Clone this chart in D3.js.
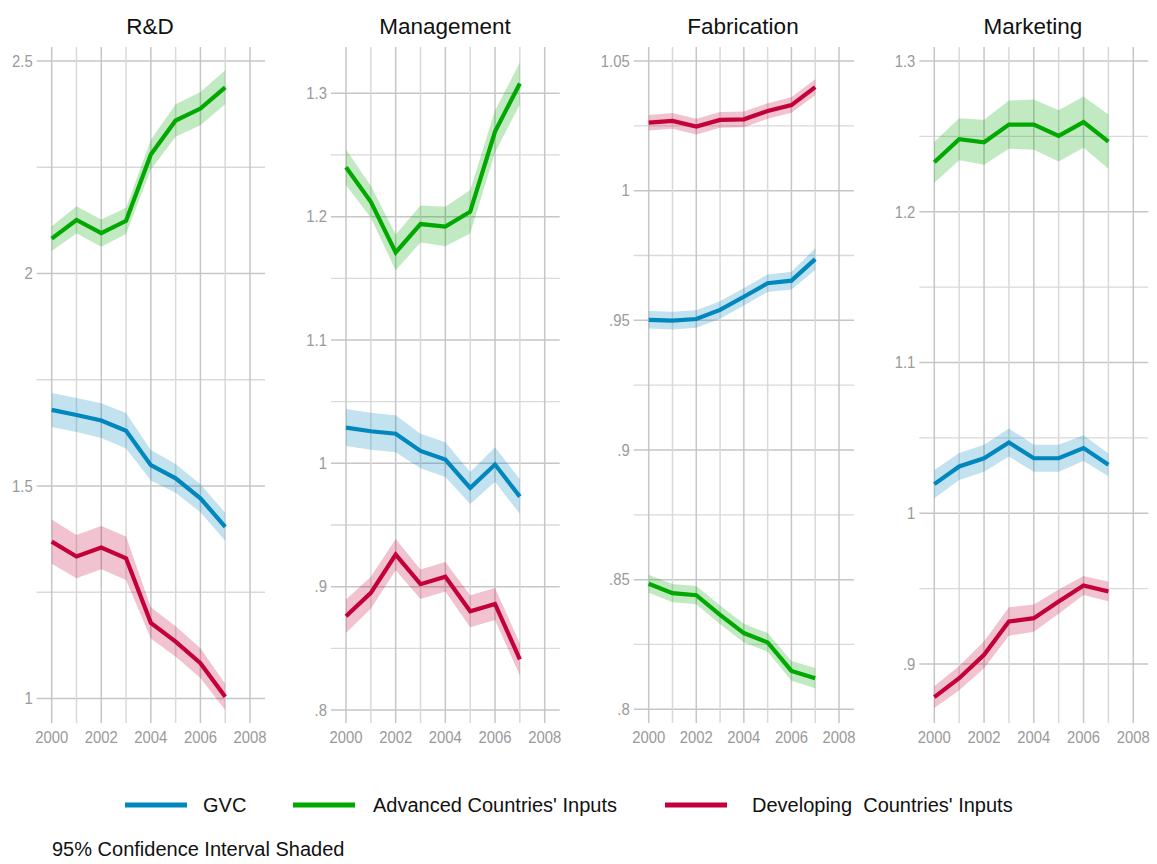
<!DOCTYPE html>
<html>
<head>
<meta charset="utf-8">
<script src="https://cdn.jsdelivr.net/npm/d3@7"></script>
<style>
  html, body { margin: 0; padding: 0; background: #fff; }
  svg { display: block; }
  text { font-family: "Liberation Sans", Arial, sans-serif; }
</style>
</head>
<body>
<svg id="chart" width="1157" height="864"></svg>
<script>
// ---------------- data ----------------
const years = [2000, 2001, 2002, 2003, 2004, 2005, 2006, 2007];
const xTicks = [2000, 2001, 2002, 2003, 2004, 2005, 2006, 2007, 2008];
const xLabels = [2000, 2002, 2004, 2006, 2008];

const panelTitles = ["R&D", "Management", "Fabrication", "Marketing"];
const seriesNames = ["GVC", "Advanced Countries' Inputs", "Developing  Countries' Inputs"];

// R&D
const rdGVC = [1.679, 1.667, 1.654, 1.630, 1.549, 1.518, 1.471, 1.404];
const rdGVCci = [0.040, 0.040, 0.041, 0.042, 0.036, 0.034, 0.033, 0.033];
const rdAdv = [2.082, 2.126, 2.095, 2.124, 2.280, 2.360, 2.388, 2.438];
const rdAdvci = [0.029, 0.032, 0.032, 0.031, 0.035, 0.038, 0.039, 0.040];
const rdDev = [1.369, 1.334, 1.355, 1.330, 1.178, 1.134, 1.083, 1.004];
const rdDevci = [0.052, 0.051, 0.051, 0.051, 0.037, 0.036, 0.035, 0.031];

// Management
const mgGVC = [1.029, 1.026, 1.024, 1.010, 1.003, 0.980, 0.999, 0.973];
const mgGVCci = [0.015, 0.015, 0.015, 0.014, 0.014, 0.013, 0.014, 0.014];
const mgAdv = [1.240, 1.212, 1.171, 1.194, 1.192, 1.204, 1.269, 1.308];
const mgAdvci = [0.0145, 0.013, 0.0146, 0.015, 0.016, 0.0176, 0.017, 0.017];
const mgDev = [0.876, 0.895, 0.926, 0.902, 0.908, 0.880, 0.886, 0.841];
const mgDevci = [0.0135, 0.013, 0.0127, 0.012, 0.012, 0.013, 0.013, 0.013];

// Fabrication
const fbGVC = [0.9502, 0.9499, 0.9505, 0.9540, 0.9591, 0.9643, 0.9653, 0.9736];
const fbGVCci = [0.0034, 0.0034, 0.0034, 0.0034, 0.0034, 0.0034, 0.0034, 0.0042];
const fbAdv = [0.8484, 0.8448, 0.8440, 0.8364, 0.8294, 0.8258, 0.8148, 0.8120];
const fbAdvci = [0.0035, 0.0035, 0.0035, 0.0036, 0.0036, 0.0036, 0.0038, 0.0039];
const fbDev = [1.0262, 1.0269, 1.0247, 1.0273, 1.0275, 1.0307, 1.0330, 1.0399];
const fbDevci = [0.0030, 0.0030, 0.0030, 0.0030, 0.0030, 0.0030, 0.0030, 0.0031];

// Marketing
const mkGVC = [1.0193, 1.0310, 1.0365, 1.0469, 1.0365, 1.0365, 1.0432, 1.0321];
const mkGVCci = [0.0094, 0.0090, 0.0090, 0.0093, 0.0090, 0.0090, 0.0085, 0.0075];
const mkAdv = [1.2328, 1.2481, 1.2461, 1.2578, 1.2578, 1.2503, 1.2595, 1.2465];
const mkAdvci = [0.0136, 0.0140, 0.0150, 0.0160, 0.0166, 0.0170, 0.0170, 0.0180];
const mkDev = [0.8780, 0.8906, 0.9061, 0.9282, 0.9304, 0.9414, 0.9521, 0.9481];
const mkDevci = [0.0072, 0.0080, 0.0090, 0.0095, 0.0090, 0.0080, 0.0063, 0.0065];

// y-axis ticks (major labelled, minor unlabelled)
const rdTicks = [1, 1.5, 2, 2.5];
const mgTicks = [0.8, 0.9, 1.0, 1.1, 1.2, 1.3];
const fbTicks = [0.8, 0.85, 0.9, 0.95, 1.0, 1.05];
const mkTicks = [0.9, 1.0, 1.1, 1.2, 1.3];

const panelValues = [
  [[rdGVC, rdGVCci], [rdAdv, rdAdvci], [rdDev, rdDevci]],
  [[mgGVC, mgGVCci], [mgAdv, mgAdvci], [mgDev, mgDevci]],
  [[fbGVC, fbGVCci], [fbAdv, fbAdvci], [fbDev, fbDevci]],
  [[mkGVC, mkGVCci], [mkAdv, mkAdvci], [mkDev, mkDevci]]
];
const panelTicks = [rdTicks, mgTicks, fbTicks, mkTicks];

// ---------------- layout / style ----------------
const colors = ["#0087bd", "#00a800", "#c4003a"];
const plotTop = 47, plotBottom = 723;
const tickFont = 16.5, tickSX = 0.9;
const layout = [
  { x0: 51.7, x1: 250.0, yLoPx: 698.5, yHiPx: 61,   titleX: 150 },
  { x0: 346.0, x1: 544.7, yLoPx: 710,  yHiPx: 93.3, titleX: 445 },
  { x0: 648.7, x1: 839.0, yLoPx: 709.3, yHiPx: 61,  titleX: 743 },
  { x0: 934.3, x1: 1133.3, yLoPx: 664, yHiPx: 61,   titleX: 1033 }
];

const svg = d3.select("#chart");
const fmt = v => {
  let s = d3.format("")(+v.toFixed(3));
  return s.replace(/^0\./, ".");
};

panelTitles.forEach((title, p) => {
  const L = layout[p];
  const ticks = panelTicks[p];
  const x = d3.scaleLinear().domain([2000, 2008]).range([L.x0, L.x1]);
  const y = d3.scaleLinear().domain([ticks[0], ticks[ticks.length - 1]]).range([L.yLoPx, L.yHiPx]);
  const g = svg.append("g");
  const gxL = L.x0 - 15, gxR = L.x1 + 15;

  const minor = d3.pairs(ticks).map(([a, b]) => (a + b) / 2);
  g.selectAll(".hminor").data(minor).join("line")
    .attr("x1", gxL).attr("x2", gxR)
    .attr("y1", d => y(d)).attr("y2", d => y(d))
    .attr("stroke", "#d9d9d9").attr("stroke-width", 1.3);
  g.selectAll(".hmajor").data(ticks).join("line")
    .attr("x1", gxL).attr("x2", gxR)
    .attr("y1", d => y(d)).attr("y2", d => y(d))
    .attr("stroke", "#c6c6c6").attr("stroke-width", 1.5);
  g.selectAll(".vgrid").data(xTicks).join("line")
    .attr("x1", d => x(d)).attr("x2", d => x(d))
    .attr("y1", plotTop).attr("y2", plotBottom)
    .attr("stroke", d => d % 2 === 0 ? "#c6c6c6" : "#d9d9d9")
    .attr("stroke-width", 1.5);

  g.selectAll(".ylab").data(ticks).join("text")
    .attr("transform", d => `translate(${gxL - 4},${y(d)}) scale(${tickSX},1)`)
    .attr("text-anchor", "end").attr("dominant-baseline", "central")
    .attr("font-size", tickFont).attr("fill", "#9a9a9a")
    .text(d => fmt(d));
  g.selectAll(".xlab").data(xLabels).join("text")
    .attr("transform", d => `translate(${x(d)},743) scale(${tickSX},1)`)
    .attr("text-anchor", "middle")
    .attr("font-size", tickFont).attr("fill", "#9a9a9a")
    .text(d => d);

  g.append("text")
    .attr("x", L.titleX).attr("y", 34)
    .attr("text-anchor", "middle")
    .attr("font-size", 22.5).attr("fill", "#111")
    .text(title);

  panelValues[p].forEach(([vals, ci], s) => {
    const pts = years.map((yr, i) => ({ yr, v: vals[i], lo: vals[i] - ci[i], hi: vals[i] + ci[i] }));
    const area = d3.area().x(d => x(d.yr)).y0(d => y(d.lo)).y1(d => y(d.hi));
    g.append("path").attr("d", area(pts))
      .attr("fill", colors[s]).attr("fill-opacity", 0.24);
  });
  panelValues[p].forEach(([vals], s) => {
    const pts = years.map((yr, i) => ({ yr, v: vals[i] }));
    const line = d3.line().x(d => x(d.yr)).y(d => y(d.v));
    g.append("path").attr("d", line(pts))
      .attr("fill", "none").attr("stroke", colors[s])
      .attr("stroke-width", 4.2).attr("stroke-linejoin", "miter");
  });
});

const legendItems = [
  { lx: 125, tx: 203 },
  { lx: 293, tx: 373 },
  { lx: 665, tx: 752 }
];
seriesNames.forEach((name, i) => {
  const it = legendItems[i];
  svg.append("line")
    .attr("x1", it.lx).attr("x2", it.lx + 62)
    .attr("y1", 805).attr("y2", 805)
    .attr("stroke", colors[i]).attr("stroke-width", 5);
  svg.append("text")
    .attr("x", it.tx).attr("y", 812)
    .attr("font-size", 20).attr("fill", "#111")
    .style("white-space", "pre")
    .attr("xml:space", "preserve")
    .text(name);
});
svg.append("text")
  .attr("x", 52).attr("y", 856)
  .attr("font-size", 20).attr("fill", "#111")
  .text("95% Confidence Interval Shaded");
</script>
</body>
</html>
